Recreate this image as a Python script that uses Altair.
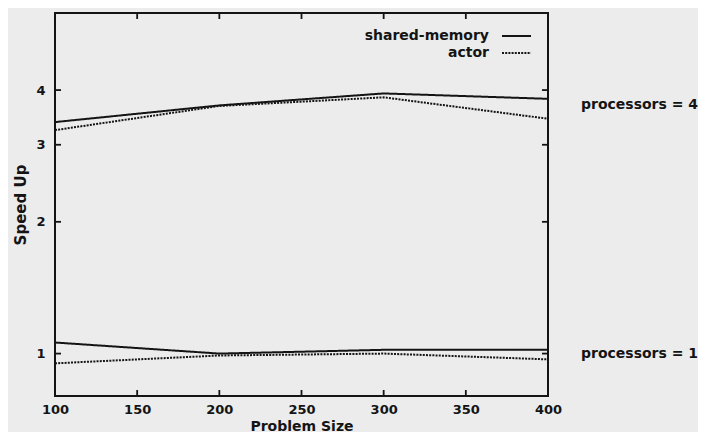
import altair as alt
import pandas as pd

problem_sizes = [100, 200, 300, 400]
shared_p4 = [3.38, 3.69, 3.93, 3.82]
actor_p4 = [3.24, 3.68, 3.85, 3.44]
shared_p1 = [1.06, 1.00, 1.02, 1.02]
actor_p1 = [0.95, 0.99, 1.00, 0.97]
series_names = ["shared-memory", "actor"]
x_ticks = [100, 150, 200, 250, 300, 350, 400]
y_ticks = [1, 2, 3, 4]
proc_labels = ["processors = 4", "processors = 1"]
proc_label_y = [3.69, 1.0]

rows = []
for name, procs, vals in [
    ("shared-memory", 4, shared_p4),
    ("actor", 4, actor_p4),
    ("shared-memory", 1, shared_p1),
    ("actor", 1, actor_p1),
]:
    for s, v in zip(problem_sizes, vals):
        rows.append({"size": s, "speedup": v, "series": name, "procs": procs})
df = pd.DataFrame(rows)

W, H = 493, 383
FONT = "DejaVu Sans"
INK = "#141414"

x_scale = alt.Scale(domain=[100, 400], nice=False, zero=False)
y_scale = alt.Scale(type="log", domain=[0.8, 6], nice=False)
dash_scale = alt.Scale(domain=series_names, range=[[1, 0], [2, 1.2]])

x_axis = alt.Axis(values=x_ticks, title="Problem Size", tickSize=0, domain=False,
                  grid=False, labelPadding=7, labelFontSize=13, labelFontWeight="bold",
                  labelFont=FONT, labelColor=INK, titleFont=FONT, titleFontSize=14,
                  titleFontWeight="bold", titleColor=INK, titlePadding=3,
                  labelFlush=False)
y_axis = alt.Axis(values=y_ticks, title="Speed Up", tickSize=0, domain=False,
                  grid=False, labelPadding=10, labelFontSize=13, labelFontWeight="bold",
                  labelFont=FONT, labelColor=INK, titleFont=FONT, titleFontSize=15,
                  titleFontWeight="bold", titleColor=INK, titlePadding=7,
                  labelFlush=False, format="d")


def xe():
    return alt.X("size:Q", scale=x_scale, axis=x_axis)


def ye():
    return alt.Y("speedup:Q", scale=y_scale, axis=y_axis)


lines = alt.Chart(df).mark_line(color=INK, strokeWidth=2, clip=True).encode(
    x=xe(), y=ye(),
    strokeDash=alt.StrokeDash("series:N", scale=dash_scale, legend=None),
    detail="procs:N",
)

xt = pd.DataFrame({"size": x_ticks})
yt = pd.DataFrame({"speedup": y_ticks})

x_bottom = alt.Chart(xt).mark_rule(color=INK, strokeWidth=1.8).encode(
    x=xe(), y=alt.value(H), y2=alt.value(H - 6))
x_top = alt.Chart(xt).mark_rule(color=INK, strokeWidth=1.8).encode(
    x=xe(), y=alt.value(0), y2=alt.value(6))
y_left = alt.Chart(yt).mark_rule(color=INK, strokeWidth=1.8).encode(
    y=ye(), x=alt.value(0), x2=alt.value(6))
y_right = alt.Chart(yt).mark_rule(color=INK, strokeWidth=1.8).encode(
    y=ye(), x=alt.value(W - 6), x2=alt.value(W))

legend_layers = []
for i, (name, dash) in enumerate(zip(series_names, [[1, 0], [2, 1.2]])):
    ly = 23 + 17 * i
    legend_layers.append(
        alt.Chart(pd.DataFrame({"series": [name]})).mark_text(
            align="right", baseline="middle", font=FONT, fontSize=14, fontWeight="bold", color=INK
        ).encode(x=alt.value(434), y=alt.value(ly), text="series:N")
    )
    legend_layers.append(
        alt.Chart(pd.DataFrame({"series": [name]})).mark_rule(color=INK, strokeWidth=2, strokeDash=dash).encode(
            x=alt.value(447), x2=alt.value(476), y=alt.value(ly))
    )

proc_df = pd.DataFrame({"label": proc_labels, "speedup": proc_label_y, "size": [400, 400]})
proc_text = alt.Chart(proc_df).mark_text(
    align="left", baseline="middle", dx=33, font=FONT, fontSize=14, fontWeight="bold", color=INK
).encode(x=xe(), y=ye(), text="label:N")

chart = alt.layer(lines, x_bottom, x_top, y_left, y_right, proc_text, *legend_layers).properties(
    width=W, height=H,
    autosize=alt.AutoSizeParams(type="none"),
    padding={"left": 47, "top": 5, "right": 150, "bottom": 36},
    background="#ececec",
).configure_view(stroke=INK, strokeWidth=2)

chart.save("out.html", embed_options={"renderer": "svg", "actions": False})
